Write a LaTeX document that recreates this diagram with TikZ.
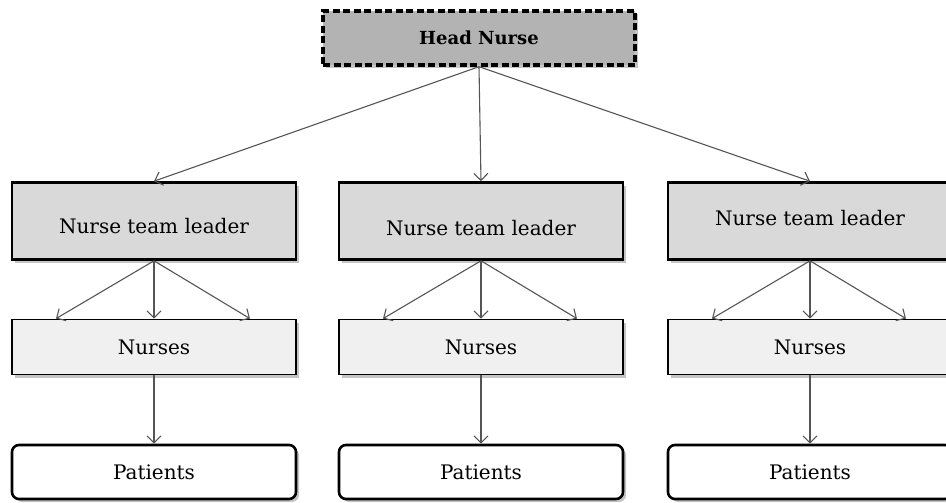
\documentclass[tikz,border=0pt]{standalone}
\usepackage{fontspec}
\setmainfont{DejaVu Serif}
\usetikzlibrary{arrows.meta, shadows, positioning}

\definecolor{headgray}{HTML}{B3B3B3}
\definecolor{leadgray}{HTML}{D9D9D9}
\definecolor{nursegray}{HTML}{F0F0F0}
\definecolor{linkgray}{HTML}{555555}

\begin{document}
\begin{tikzpicture}[x=1pt, y=-1pt,
    every node/.style={font=\fontsize{20}{24}\selectfont},
    box/.style={draw=black, line width=2.6pt, minimum width=284pt, inner sep=0pt,
      drop shadow={shadow xshift=3pt, shadow yshift=-3pt, fill=black!45}},
    headbox/.style={box, line width=3.4pt, dash pattern=on 7pt off 3.5pt, fill=headgray,
      minimum width=312pt, minimum height=54pt, font=\fontsize{18}{22}\selectfont\bfseries},
    leadbox/.style={box, fill=leadgray, minimum height=77pt},
    nursebox/.style={box, line width=1.8pt, fill=nursegray, minimum height=55pt},
    patbox/.style={box, line width=2.6pt, fill=white, rounded corners=7pt, minimum height=54pt},
    link/.style={draw=linkgray, line width=1.1pt, -{Straight Barb[length=7pt, width=14pt]}}]
  \useasboundingbox (0,0) rectangle (946,503);

  \node[headbox] (head) at (479,38) {Head Nurse};

  % one column per team
  \foreach \i/\x/\dy in {1/154/12, 2/481/14, 3/810/4}{
    \node[leadbox] (lead\i) at (\x,221) {\raisebox{-\dy pt}[0pt][0pt]{Nurse team leader}};
    \node[nursebox] (nurses\i) at (\x,347) {Nurses};
    \node[patbox] (pat\i) at (\x,472) {Patients};
    \draw[link] (head.south) -- (lead\i.north);
    \draw[link] (lead\i.south) -- ([xshift=-98pt]nurses\i.north);
    \draw[link] (lead\i.south) -- (nurses\i.north);
    \draw[link] (lead\i.south) -- ([xshift=96pt]nurses\i.north);
    \draw[link] (nurses\i.south) -- (pat\i.north);
  }
\end{tikzpicture}
\end{document}
